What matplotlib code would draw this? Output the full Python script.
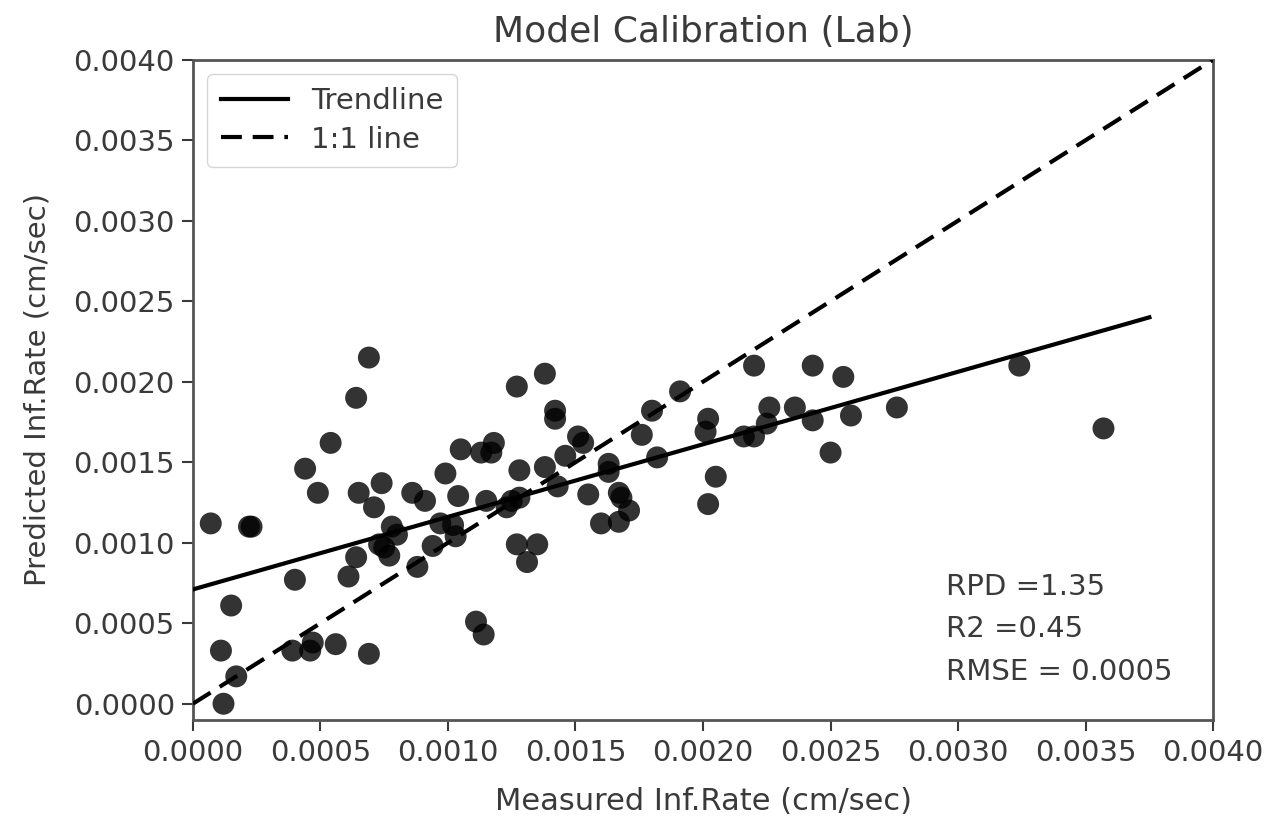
import matplotlib
matplotlib.use("Agg")
import matplotlib.pyplot as plt
import numpy as np

# measured vs predicted infiltration rate (cm/sec)
measured = [
    0.00007, 0.00012, 0.00011, 0.00015, 0.00017, 0.00022, 0.00023, 0.00040,
    0.00039, 0.00044, 0.00047, 0.00046, 0.00049, 0.00054, 0.00056, 0.00061,
    0.00064, 0.00064, 0.00065, 0.00069, 0.00069, 0.00071, 0.00074, 0.00073,
    0.00075, 0.00077, 0.00078, 0.00080, 0.00086, 0.00088, 0.00091, 0.00094,
    0.00097, 0.00099, 0.00102, 0.00103, 0.00104, 0.00105, 0.00111, 0.00114,
    0.00113, 0.00115, 0.00117, 0.00118, 0.00123, 0.00125, 0.00127, 0.00127,
    0.00128, 0.00128, 0.00131, 0.00135, 0.00138, 0.00138, 0.00142, 0.00142,
    0.00143, 0.00146, 0.00151, 0.00153, 0.00155, 0.00160, 0.00163, 0.00163,
    0.00167, 0.00167, 0.00168, 0.00171, 0.00176, 0.00180, 0.00182, 0.00191,
    0.00201, 0.00202, 0.00202, 0.00205, 0.00216, 0.00220, 0.00220, 0.00225,
    0.00226, 0.00236, 0.00243, 0.00243, 0.00250, 0.00255, 0.00258, 0.00276,
    0.00324, 0.00357,
]
predicted = [
    0.00112, 0.00000, 0.00033, 0.00061, 0.00017, 0.00110, 0.00110, 0.00077,
    0.00033, 0.00146, 0.00038, 0.00033, 0.00131, 0.00162, 0.00037, 0.00079,
    0.00091, 0.00190, 0.00131, 0.00031, 0.00215, 0.00122, 0.00137, 0.00099,
    0.00097, 0.00092, 0.00110, 0.00105, 0.00131, 0.00085, 0.00126, 0.00098,
    0.00112, 0.00143, 0.00111, 0.00104, 0.00129, 0.00158, 0.00051, 0.00043,
    0.00156, 0.00126, 0.00156, 0.00162, 0.00122, 0.00126, 0.00197, 0.00099,
    0.00128, 0.00145, 0.00088, 0.00099, 0.00205, 0.00147, 0.00182, 0.00177,
    0.00135, 0.00154, 0.00166, 0.00162, 0.00130, 0.00112, 0.00149, 0.00144,
    0.00113, 0.00131, 0.00128, 0.00120, 0.00167, 0.00182, 0.00153, 0.00194,
    0.00169, 0.00177, 0.00124, 0.00141, 0.00166, 0.00210, 0.00166, 0.00174,
    0.00184, 0.00184, 0.00210, 0.00176, 0.00156, 0.00203, 0.00179, 0.00184,
    0.00210, 0.00171,
]

trend_x = [0.0, 0.00375]
trend_y = [0.00071, 0.00240]
one_to_one = [0.0, 0.004]

ticks = [0.0, 0.0005, 0.0010, 0.0015, 0.0020, 0.0025, 0.0030, 0.0035, 0.0040]
tick_labels = ["0.0000", "0.0005", "0.0010", "0.0015", "0.0020",
               "0.0025", "0.0030", "0.0035", "0.0040"]

stats_text = "RPD =1.35\nR2 =0.45\nRMSE = 0.0005"

plt.rcParams["font.family"] = ["DejaVu Sans"]
txt = "#3a3a3a"

fig = plt.figure(figsize=(12.69, 8.18), dpi=100)
ax = fig.add_axes([0.152, 0.120, 0.804, 0.807])

ax.scatter(measured, predicted, s=250, color="black", alpha=0.8,
           edgecolors="none", zorder=2)
ax.plot(trend_x, trend_y, color="black", lw=3, label="Trendline", zorder=3)
ax.plot(one_to_one, one_to_one, color="black", lw=3, ls=(0, (5, 2.6)),
        label="1:1 line", zorder=3)

ax.set_xlim(0, 0.004)
ax.set_ylim(-0.0001, 0.004)
ax.set_xticks(ticks)
ax.set_xticklabels(tick_labels)
ax.set_yticks(ticks)
ax.set_yticklabels(tick_labels)
ax.tick_params(axis="x", labelsize=21, colors=txt, length=8, width=1.5, pad=6)
ax.tick_params(axis="y", labelsize=21, colors=txt, length=8, width=1.5, pad=5)
for sp in ax.spines.values():
    sp.set_color("#555555")
    sp.set_linewidth(2)

ax.set_title("Model Calibration (Lab)", fontsize=26, color=txt, pad=13)
ax.set_xlabel("Measured Inf.Rate (cm/sec)", fontsize=22, color=txt, labelpad=14)
ax.set_ylabel("Predicted Inf.Rate (cm/sec)", fontsize=21, color=txt, labelpad=16)

leg = ax.legend(loc="upper left", fontsize=21, handlelength=2.3,
                borderpad=0.45, labelspacing=0.35, frameon=True)
for t in leg.get_texts():
    t.set_color(txt)

ax.text(0.738, 0.052, stats_text, transform=ax.transAxes, fontsize=21,
        color=txt, linespacing=1.65, va="bottom", ha="left")

fig.savefig("out.png", dpi=100)
